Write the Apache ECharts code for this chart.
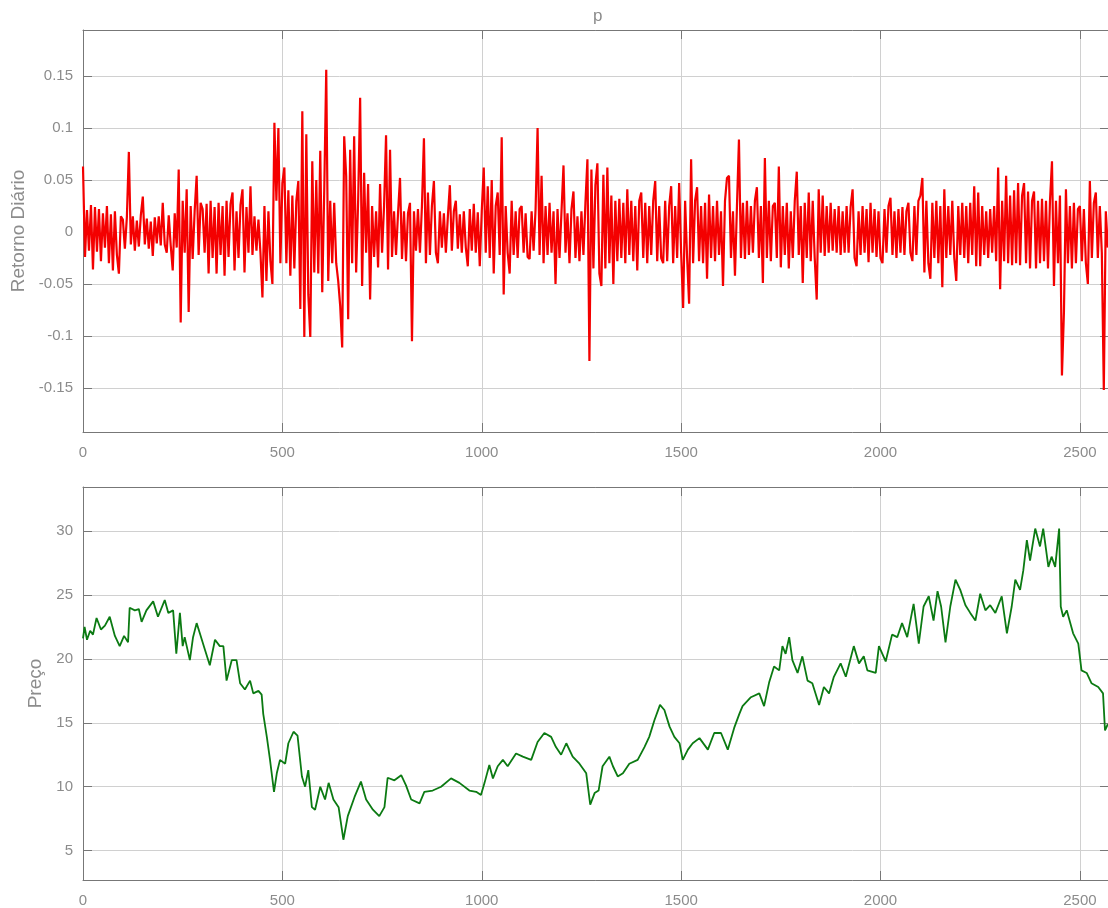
<!DOCTYPE html>
<html>
<head>
<meta charset="utf-8">
<script src="https://cdn.jsdelivr.net/npm/echarts@6/dist/echarts.min.js"></script>
<style>html,body{margin:0;padding:0;background:#fff;overflow:hidden}#c{width:1108px;height:908px}</style>
</head>
<body>
<div id="c"></div>
<script>
// ---- data ----
const titleText = 'p';
const retLabel = 'Retorno Diário';
const priceLabel = 'Preço';

const xTicks = [0, 500, 1000, 1500, 2000, 2500];
const retTicks = [-0.15, -0.1, -0.05, 0, 0.05, 0.1, 0.15];
const priceTicks = [5, 10, 15, 20, 25, 30];

// daily returns, one reading every 5 days starting at day 0
const retStep = 5;
const returns = [
0.063,-0.024,0.021,-0.018,0.026,-0.036,0.024,-0.019,0.022,-0.028,
0.018,-0.015,0.025,-0.030,0.017,-0.037,0.020,-0.022,-0.040,0.015,
0.012,-0.016,0.014,0.077,-0.012,0.015,-0.018,0.011,-0.014,0.016,
0.034,-0.012,0.013,-0.016,0.010,-0.023,0.014,-0.011,0.015,-0.013,
0.028,-0.012,-0.020,0.016,-0.013,-0.037,0.018,-0.015,0.060,-0.087,
0.030,-0.020,0.041,-0.077,0.025,-0.026,0.020,0.054,-0.022,0.028,
0.022,-0.020,0.027,-0.040,0.030,-0.025,0.024,-0.040,0.028,-0.022,
0.025,-0.042,0.030,-0.024,0.027,0.038,-0.037,0.020,-0.025,0.026,
0.041,-0.039,0.024,-0.020,0.044,-0.022,0.015,-0.018,0.012,-0.020,
-0.063,0.025,-0.047,0.020,-0.028,-0.050,0.105,0.030,0.100,-0.030,
0.047,0.062,-0.030,0.040,-0.042,0.035,-0.035,0.030,0.049,-0.074,
0.116,-0.101,0.094,-0.060,-0.101,0.068,-0.039,0.050,-0.040,0.078,
-0.058,0.040,0.156,-0.047,0.030,-0.030,0.028,-0.030,-0.047,-0.071,
-0.111,0.092,0.054,-0.084,0.079,-0.030,0.092,-0.039,0.030,0.129,
-0.052,0.057,-0.020,0.046,-0.065,0.025,-0.024,0.020,-0.034,0.046,
-0.020,0.025,0.093,-0.036,0.079,-0.024,0.020,-0.022,0.018,0.052,
-0.026,0.020,-0.028,0.018,0.028,-0.105,0.020,-0.018,0.022,-0.020,
0.025,0.090,-0.030,0.038,-0.022,0.025,0.049,-0.020,-0.030,0.020,
-0.015,0.018,-0.020,0.015,0.045,-0.018,0.020,0.030,-0.016,0.017,
-0.020,0.020,-0.015,-0.033,0.022,-0.018,0.027,-0.020,0.019,-0.033,
0.020,0.062,-0.020,0.044,-0.025,0.050,-0.040,0.025,0.038,-0.022,
0.091,-0.060,0.025,-0.020,-0.040,0.030,-0.022,0.020,-0.025,0.022,
0.025,-0.020,0.018,-0.024,-0.026,0.020,-0.018,0.022,0.100,-0.022,
0.054,-0.030,0.025,-0.022,0.028,-0.020,0.020,-0.050,0.022,-0.025,
0.020,0.064,-0.020,0.018,-0.030,0.022,0.039,-0.025,0.015,-0.028,
0.020,-0.022,0.028,0.070,-0.124,0.060,-0.035,0.045,0.066,-0.040,
-0.052,0.055,-0.035,0.062,-0.030,0.035,-0.050,0.030,-0.028,0.032,
-0.025,0.028,-0.030,0.041,-0.022,0.030,-0.028,0.025,-0.037,0.030,
0.038,-0.025,0.028,-0.030,0.025,-0.022,0.030,0.049,-0.028,0.025,
-0.025,-0.030,0.030,-0.028,0.025,0.044,-0.030,0.025,-0.025,0.047,
-0.020,-0.073,0.030,-0.025,-0.069,0.070,-0.030,0.030,0.043,-0.028,
0.025,-0.030,0.028,-0.045,0.036,-0.025,0.025,-0.028,0.030,-0.022,
0.020,-0.052,0.030,0.052,0.054,-0.025,0.020,-0.042,0.025,0.089,
-0.025,0.028,-0.026,0.030,-0.022,0.025,-0.020,0.030,0.043,-0.025,
0.025,-0.049,0.071,-0.025,0.030,-0.028,0.025,0.028,-0.025,0.063,
-0.034,0.025,-0.022,0.028,-0.035,0.020,-0.025,0.030,0.058,-0.022,
0.025,-0.049,0.028,-0.025,0.038,-0.028,0.030,-0.025,-0.065,0.041,
-0.020,0.035,-0.023,0.025,-0.020,0.028,-0.018,0.022,-0.020,0.025,
-0.022,0.020,-0.020,0.025,-0.020,0.024,0.041,-0.025,-0.033,0.020,
-0.022,0.025,-0.020,0.022,-0.029,0.028,-0.020,0.022,-0.024,0.020,
-0.025,-0.030,0.022,-0.020,0.025,0.033,-0.022,0.020,-0.025,0.022,
-0.020,0.024,-0.022,0.020,0.028,-0.020,-0.028,0.025,-0.022,0.030,
0.035,0.052,-0.039,0.030,-0.030,-0.045,0.028,-0.025,0.030,-0.030,
0.025,-0.053,0.041,-0.025,0.025,-0.022,0.030,-0.025,-0.047,0.025,
-0.022,0.028,-0.025,0.025,-0.030,0.028,-0.022,0.044,-0.033,0.038,
-0.033,0.025,-0.022,0.020,-0.025,0.022,-0.020,0.025,-0.028,0.062,
-0.055,0.030,-0.028,0.054,-0.030,0.035,-0.032,0.040,-0.030,0.047,
-0.032,0.035,0.047,-0.030,0.039,-0.035,0.030,0.039,-0.035,0.030,
-0.030,0.032,-0.028,0.030,-0.035,0.030,0.068,-0.052,0.030,-0.030,
0.035,-0.138,-0.077,0.041,-0.030,0.025,-0.035,0.028,-0.030,0.022,
0.025,-0.028,0.022,-0.030,-0.050,0.049,-0.025,0.028,0.038,-0.025,
0.025,-0.020,-0.152,0.020,-0.015
];

// price readings: day index and price
const priceDays = [
0,4,10,18,25,34,45,55,67,80,92,103,113,117,130,140,147,159,176,188,
205,214,226,234,243,250,255,268,276,285,293,306,318,331,343,352,360,373,385,394,
406,419,427,440,448,452,461,469,479,486,494,507,515,528,538,549,557,565,574,582,
595,607,616,628,641,653,664,681,697,710,727,743,756,764,781,798,810,823,844,856,
877,898,923,944,969,986,998,1007,1019,1028,1040,1053,1065,1086,1103,1124,1140,1157,1174,1186,
1199,1212,1228,1245,1262,1272,1283,1293,1303,1320,1329,1341,1354,1370,1391,1408,1420,1433,1447,1458,
1471,1483,1496,1504,1517,1529,1546,1567,1583,1600,1617,1633,1646,1654,1675,1696,1708,1721,1733,1746,
1754,1762,1771,1779,1792,1804,1817,1829,1846,1858,1871,1883,1900,1913,1933,1946,1958,1967,1988,1996,
2013,2029,2042,2054,2067,2083,2096,2108,2121,2133,2143,2152,2163,2175,2188,2200,2213,2225,2238,2250,
2263,2275,2288,2304,2317,2329,2338,2350,2358,2367,2375,2388,2400,2408,2421,2429,2438,2448,2452,2458,
2467,2483,2496,2504,2517,2529,2546,2558,2563,2570
];
const priceValues = [
21.6,22.5,21.5,22.2,21.9,23.2,22.3,22.6,23.3,21.8,21.0,21.8,21.3,24.0,23.8,23.9,22.9,23.8,24.5,23.3,
24.6,23.6,23.8,20.4,23.6,21.0,21.7,19.9,21.7,22.8,22.0,20.7,19.5,21.5,21.0,21.0,18.3,19.9,19.9,18.1,
17.6,18.3,17.3,17.5,17.2,15.7,13.9,12.1,9.6,11.05,12.1,11.8,13.4,14.3,14.0,10.8,10.0,11.3,8.4,8.2,
10.0,9.0,10.3,9.0,8.4,5.85,7.7,9.2,10.4,9.0,8.2,7.7,8.4,10.7,10.5,10.9,10.1,9.0,8.7,9.6,
9.7,10.0,10.65,10.3,9.7,9.6,9.35,10.3,11.7,10.65,11.6,12.1,11.6,12.6,12.35,12.1,13.5,14.2,13.9,13.1,
12.5,13.4,12.35,11.8,11.05,8.6,9.5,9.7,11.6,12.35,11.6,10.8,11.05,11.8,12.1,13.1,13.9,15.2,16.4,16.0,
14.7,13.9,13.4,12.1,12.9,13.4,13.8,12.9,14.2,14.2,12.9,14.6,15.7,16.3,17.0,17.3,16.3,18.2,19.4,19.1,
21.0,20.4,21.7,19.9,18.9,20.2,18.3,18.1,16.4,17.8,17.3,18.6,19.65,18.6,21.0,19.65,20.2,19.1,18.9,21.0,
19.8,21.9,21.7,22.8,21.7,24.3,21.2,24.1,24.9,23.0,25.3,24.1,21.3,24.1,26.2,25.4,24.2,23.6,23.0,25.1,
23.8,24.2,23.6,24.9,22.0,24.1,26.2,25.4,26.9,29.3,27.7,30.2,28.8,30.2,27.2,28.0,27.2,30.2,24.1,23.3,
23.8,22.0,21.2,19.1,18.9,18.1,17.8,17.3,14.4,14.9
];

// ---- chart ----
const retData = returns.map((v, k) => [k * retStep, v]);
const priceData = priceDays.map((d, k) => [d, priceValues[k]]);

const FONT = '"Liberation Sans", Arial, Helvetica, sans-serif';
const TXT = '#8c8c8c';
const BORDER = '#777777';
const GRIDC = '#d0d0d0';
const XMIN = 0, XMAX = 2573;

function inList(list, v) { return list.some(t => Math.abs(t - v) < 1e-9); }
function fmtFactory(list) {
  return function (v) { return inList(list, v) ? String(+v.toFixed(4)) : ''; };
}

function xAx(grid, pos, showLabel) {
  return {
    type: 'value', gridIndex: grid, position: pos, min: XMIN, max: XMAX, splitNumber: 5,
    axisLine: { show: true, onZero: false, lineStyle: { color: BORDER, width: 1 } },
    axisTick: { show: true, inside: true, length: 9, lineStyle: { color: BORDER } },
    axisLabel: { show: showLabel, color: TXT, fontFamily: FONT, fontSize: 15, margin: 13,
                 formatter: fmtFactory(xTicks) },
    splitLine: { show: showLabel, lineStyle: { color: GRIDC, width: 1 } }
  };
}
function yAx(grid, pos, min, max, split, ticks, showLabel, name, gap) {
  return {
    type: 'value', gridIndex: grid, position: pos, min: min, max: max, splitNumber: split,
    name: showLabel ? name : '', nameLocation: 'middle', nameGap: gap,
    nameTextStyle: { color: TXT, fontFamily: FONT, fontSize: 19 },
    axisLine: { show: true, onZero: false, lineStyle: { color: BORDER, width: 1 } },
    axisTick: { show: true, inside: true, length: 9, lineStyle: { color: BORDER } },
    axisLabel: { show: showLabel, color: TXT, fontFamily: FONT, fontSize: 15, margin: 10,
                 formatter: fmtFactory(ticks) },
    splitLine: { show: showLabel, lineStyle: { color: GRIDC, width: 1 } }
  };
}

const chart = echarts.init(document.getElementById('c'), null, { renderer: 'canvas' });
chart.setOption({
  animation: false,
  backgroundColor: '#ffffff',
  graphic: [{
    type: 'text', left: 593, top: 8,
    style: { text: titleText, fill: TXT, font: '17px ' + FONT }
  }],
  grid: [
    { left: 83, top: 30, width: 1026, height: 402, containLabel: false, outerBoundsMode: 'none' },
    { left: 83, top: 487, width: 1026, height: 393, containLabel: false, outerBoundsMode: 'none' }
  ],
  xAxis: [
    xAx(0, 'bottom', true),
    xAx(0, 'top', false),
    xAx(1, 'bottom', true),
    xAx(1, 'top', false)
  ],
  yAxis: [
    yAx(0, 'left', -0.1923, 0.1942, 8, retTicks, true, retLabel, 52),
    yAx(0, 'right', -0.1923, 0.1942, 8, retTicks, false, '', 0),
    yAx(1, 'left', 2.7, 33.45, 6, priceTicks, true, priceLabel, 31),
    yAx(1, 'right', 2.7, 33.45, 6, priceTicks, false, '', 0)
  ],
  series: [
    { type: 'line', xAxisIndex: 0, yAxisIndex: 0, data: retData, showSymbol: false,
      lineStyle: { color: '#f40000', width: 2.2 }, itemStyle: { color: '#f40000' } },
    { type: 'line', xAxisIndex: 2, yAxisIndex: 2, data: priceData, showSymbol: false,
      lineStyle: { color: '#0b7a12', width: 1.8 }, itemStyle: { color: '#0b7a12' } }
  ]
});
</script>
</body>
</html>
